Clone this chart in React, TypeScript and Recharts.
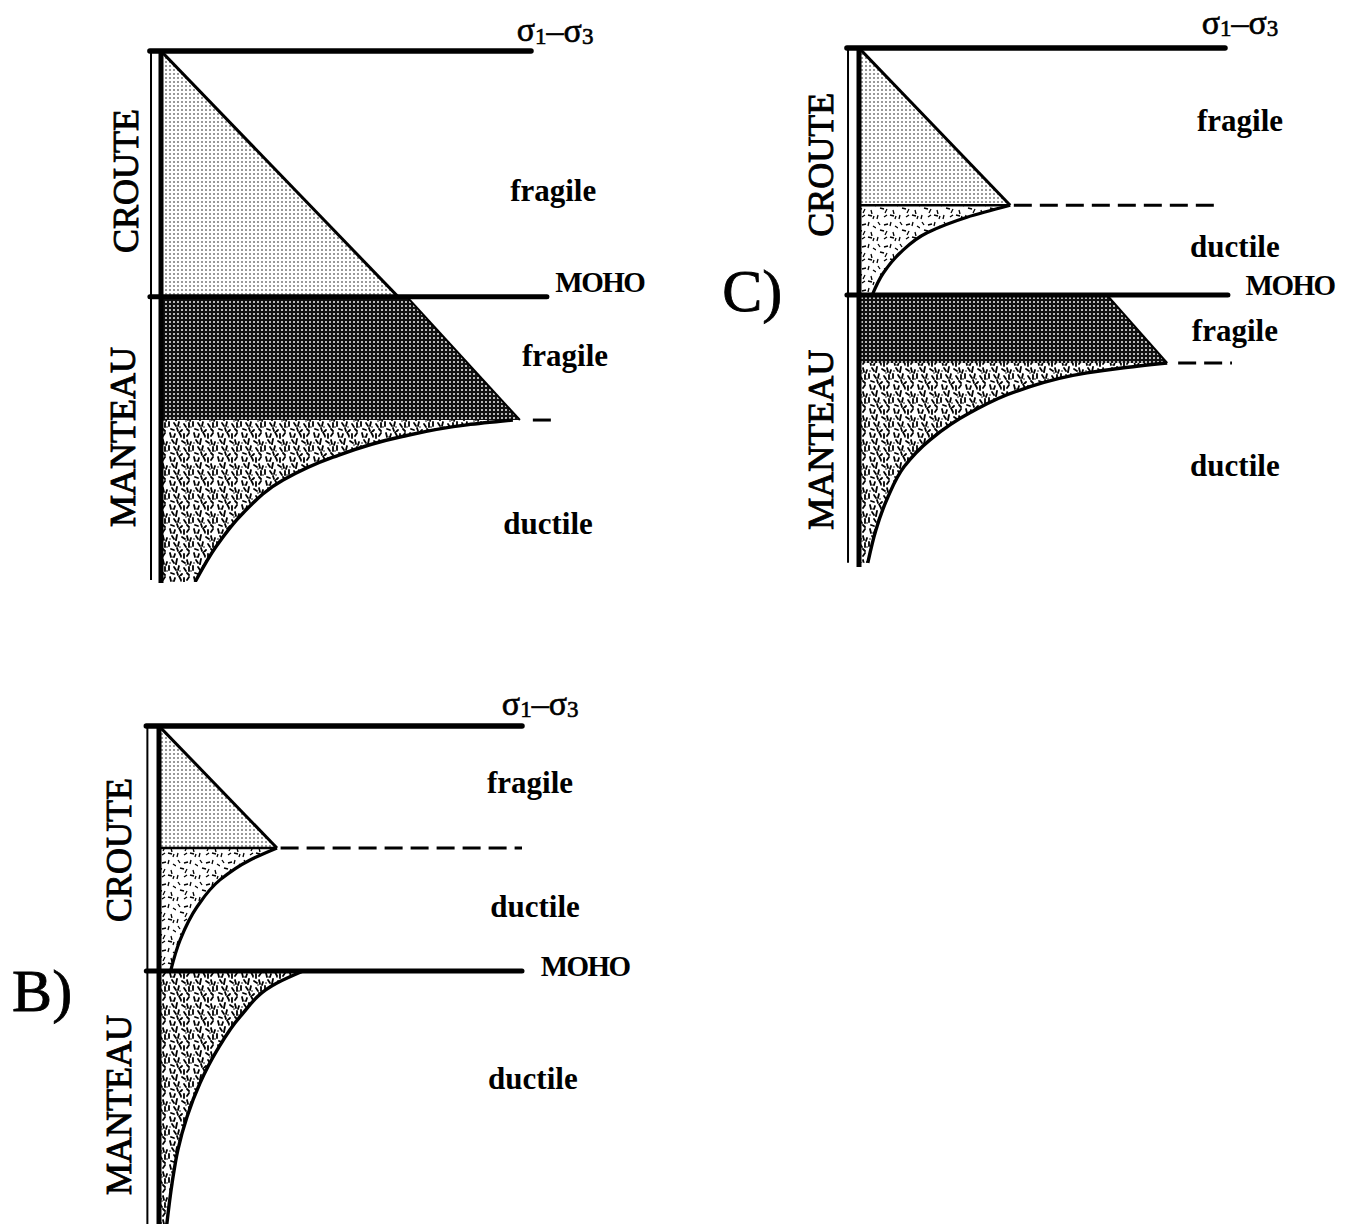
import React from 'react';
import { ComposedChart, Area, XAxis, YAxis, ReferenceLine, ReferenceDot } from 'recharts';

// depth: % of the drawn section below the surface, stress: % of the σ1–σ3 axis length

// A) thick crust, fully brittle crust
const aMoho = 46.3;
const aCrustBrittle = [
  { depth: 0, stress: 0 },
  { depth: 46.3, stress: 64.1 },
];
const aMantleBrittle = [
  { depth: 46.3, stress: 66.5 },
  { depth: 69.5, stress: 97.0 },
];
const aMantleDuctile = [
  { depth: 69.5, stress: 95.1 },
  { depth: 70.4, stress: 82.7 },
  { depth: 72.7, stress: 64.6 },
  { depth: 76.5, stress: 46.5 },
  { depth: 80.8, stress: 33.0 },
  { depth: 87.0, stress: 22.2 },
  { depth: 93.4, stress: 14.8 },
  { depth: 100, stress: 9.2 },
];

// B) ductile lower crust and ductile mantle
const bBdt = 24.5;
const bMoho = 49.2;
const bCrustBrittle = [
  { depth: 0, stress: 0 },
  { depth: 24.5, stress: 32.5 },
];
const bCrustDuctile = [
  { depth: 24.5, stress: 32.5 },
  { depth: 26.9, stress: 25.1 },
  { depth: 30.9, stress: 16.8 },
  { depth: 36.3, stress: 10.5 },
  { depth: 43.0, stress: 5.8 },
  { depth: 49.2, stress: 3.2 },
];
const bMantleDuctile = [
  { depth: 49.2, stress: 39.7 },
  { depth: 51.6, stress: 32.5 },
  { depth: 58.4, stress: 22.3 },
  { depth: 65.1, stress: 16.0 },
  { depth: 71.7, stress: 11.3 },
  { depth: 78.5, stress: 7.7 },
  { depth: 85.1, stress: 5.2 },
  { depth: 91.8, stress: 3.6 },
  { depth: 101, stress: 2.0 },
];

// C) ductile lower crust, brittle upper mantle
const cBdt = 30.3;
const cMoho = 47.6;
const cMantleBdt = 60.7;
const cCrustBrittle = [
  { depth: 0, stress: 0 },
  { depth: 30.3, stress: 41.3 },
];
const cCrustDuctile = [
  { depth: 30.3, stress: 41.3 },
  { depth: 32.6, stress: 29.5 },
  { depth: 35.6, stress: 18.6 },
  { depth: 39.5, stress: 11.2 },
  { depth: 43.4, stress: 6.6 },
  { depth: 47.6, stress: 3.6 },
];
const cMantleBrittle = [
  { depth: 47.6, stress: 67.8 },
  { depth: 60.7, stress: 84.2 },
];
const cMantleDuctile = [
  { depth: 60.7, stress: 84.2 },
  { depth: 61.7, stress: 71.3 },
  { depth: 62.6, stress: 62.3 },
  { depth: 65.9, stress: 44.0 },
  { depth: 70.3, stress: 30.3 },
  { depth: 75.5, stress: 19.4 },
  { depth: 80.7, stress: 12.3 },
  { depth: 86.5, stress: 7.9 },
  { depth: 92.9, stress: 4.6 },
  { depth: 99.2, stress: 2.4 },
];

type Pt = { depth: number; stress: number };
type Note = { text: string; kind: 'regime' | 'moho' | 'layer' | 'sigma' | 'panel'; stress: number; depth: number };

const aNotes: Note[] = [
  { text: 'σ1–σ3', kind: 'sigma', stress: 106.5, depth: -4.0 },
  { text: 'fragile', kind: 'regime', stress: 106, depth: 26.2 },
  { text: 'MOHO', kind: 'moho', stress: 118.6, depth: 43.5 },
  { text: 'fragile', kind: 'regime', stress: 109.2, depth: 57.3 },
  { text: 'ductile', kind: 'regime', stress: 104.6, depth: 88.9 },
  { text: 'CROUTE', kind: 'layer', stress: -9.7, depth: 24.5 },
  { text: 'MANTEAU', kind: 'layer', stress: -10.5, depth: 72.7 },
];
const bNotes: Note[] = [
  { text: 'σ1–σ3', kind: 'sigma', stress: 105, depth: -4.6 },
  { text: 'fragile', kind: 'regime', stress: 102.2, depth: 11.2 },
  { text: 'ductile', kind: 'regime', stress: 103.6, depth: 36.1 },
  { text: 'MOHO', kind: 'moho', stress: 117.4, depth: 48.2 },
  { text: 'ductile', kind: 'regime', stress: 103, depth: 70.7 },
  { text: 'CROUTE', kind: 'layer', stress: -11.3, depth: 24.9 },
  { text: 'MANTEAU', kind: 'layer', stress: -11.3, depth: 76.1 },
  { text: 'B)', kind: 'panel', stress: -32.2, depth: 53 },
];
const cNotes: Note[] = [
  { text: 'σ1–σ3', kind: 'sigma', stress: 104.1, depth: -5.0 },
  { text: 'fragile', kind: 'regime', stress: 104.1, depth: 13.9 },
  { text: 'ductile', kind: 'regime', stress: 102.7, depth: 38.2 },
  { text: 'MOHO', kind: 'moho', stress: 117.8, depth: 45.7 },
  { text: 'fragile', kind: 'regime', stress: 102.7, depth: 54.3 },
  { text: 'ductile', kind: 'regime', stress: 102.7, depth: 80.3 },
  { text: 'CROUTE', kind: 'layer', stress: -10.7, depth: 22.5 },
  { text: 'MANTEAU', kind: 'layer', stress: -10.7, depth: 75.5 },
  { text: 'C)', kind: 'panel', stress: -29.2, depth: 46.6 },
];

const FONT = '"Liberation Serif", "Times New Roman", Times, serif';

const sparseDashes = ['M2 2 l2 3', 'M8 5 l4 -1', 'M15 2 l-1 4', 'M19 6 l3 2', 'M4 10 l4 1', 'M11 11 l-2 4',
  'M17 12 l1 4', 'M2 17 l-1 4', 'M8 19 l3 -2', 'M14 17 l4 1', 'M20 18 l-1 3'];
const denseDashes = ['M2 1 l1 4', 'M7 2 l-1 3', 'M11 0 l2 4', 'M16 2 l0 4', 'M21 1 l-2 3',
  'M4 8 l2 3', 'M9 7 l-1 5', 'M14 9 l3 2', 'M19 8 l1 4', 'M23 10 l-1 3',
  'M1 14 l0 4', 'M6 15 l2 3', 'M11 14 l-1 4', 'M16 16 l2 3', 'M21 15 l0 4',
  'M3 21 l3 1', 'M9 20 l1 3', 'M14 22 l-2 2', 'M19 21 l2 2'];
const denseDots = [[5, 5], [13, 5], [18, 13], [8, 12], [2, 11], [23, 19], [12, 19]];

const Patterns = ({ id }: { id: string }) => (
  <defs>
    <pattern id={`${id}-light`} width={4} height={4} patternUnits="userSpaceOnUse">
      <rect width={4} height={4} fill="#fff" />
      <circle cx={2} cy={2} r={0.75} fill="#000" />
    </pattern>
    <pattern id={`${id}-dark`} width={4} height={4} patternUnits="userSpaceOnUse">
      <rect width={4} height={4} fill="#111" />
      <circle cx={2} cy={2} r={0.95} fill="#fff" />
    </pattern>
    <pattern id={`${id}-sparse`} width={22} height={22} patternUnits="userSpaceOnUse">
      <rect width={22} height={22} fill="#fff" />
      {sparseDashes.map((d, i) => (
        <path key={i} d={d} stroke="#000" strokeWidth={1.3} />
      ))}
    </pattern>
    <pattern id={`${id}-dense`} width={24} height={24} patternUnits="userSpaceOnUse">
      <rect width={24} height={24} fill="#fff" />
      {denseDashes.map((d, i) => (
        <path key={i} d={d} stroke="#000" strokeWidth={1.8} strokeLinecap="round" />
      ))}
      {denseDots.map(([cx, cy], i) => (
        <circle key={`d${i}`} cx={cx} cy={cy} r={0.8} fill="#000" />
      ))}
    </pattern>
  </defs>
);

const SigmaLabel = (props: any) => {
  const vb = props.viewBox || {};
  const x = (vb.x ?? 0) + (vb.width ?? 0) / 2;
  const y = (vb.y ?? 0) + (vb.height ?? 0) / 2;
  return (
    <text x={x} y={y} textAnchor="middle" dominantBaseline="central" fontFamily={FONT} fontSize={34}
      fill="#000" stroke="#000" strokeWidth={0.6}>
      σ<tspan fontSize={23} dy={6}>1</tspan>
      <tspan dy={-6}>–σ</tspan>
      <tspan fontSize={23} dy={6}>3</tspan>
    </text>
  );
};

const noteLabel = (n: Note) => {
  if (n.kind === 'sigma') return SigmaLabel;
  const base = { value: n.text, position: 'center' as const, fill: '#000', fontFamily: FONT };
  if (n.kind === 'regime') return { ...base, fontSize: 31, fontWeight: 700 };
  if (n.kind === 'moho') return { ...base, fontSize: 29, fontWeight: 700, letterSpacing: -1.5 };
  if (n.kind === 'layer') return { ...base, fontSize: 36, angle: -90, stroke: '#000', strokeWidth: 0.9 };
  return { ...base, fontSize: 60, stroke: '#000', strokeWidth: 0.8 };
};

interface Dash { depth: number; from: number; to: number }
interface PanelCfg {
  id: string;
  box: { left: number; top: number; width: number; height: number };
  plot: { left: number; top: number; width: number; height: number };
  thinX: number;
  axisBottom: number;
  thinBottom: number;
  moho: number;
  mohoEnd: number;
  crustBrittle: Pt[];
  crustDuctile?: Pt[];
  mantleBrittle?: Pt[];
  mantleDuctile: Pt[];
  bdtSolid?: Dash;
  dashes: Dash[];
  notes: Note[];
}

const Panel = ({ cfg }: { cfg: PanelCfg }) => {
  const { box, plot, id } = cfg;
  const margin = {
    left: plot.left - box.left,
    top: plot.top - box.top,
    right: box.left + box.width - plot.left - plot.width,
    bottom: box.top + box.height - plot.top - plot.height,
  };
  return (
    <div style={{ position: 'absolute', left: box.left, top: box.top }}>
      <ComposedChart layout="vertical" width={box.width} height={box.height} margin={margin}>
        <Patterns id={id} />
        <XAxis type="number" domain={[0, 100]} allowDataOverflow hide />
        <YAxis type="number" dataKey="depth" domain={[0, 100]} allowDataOverflow hide />
        <Area data={cfg.crustBrittle} dataKey="stress" type="linear" fill={`url(#${id}-light)`} fillOpacity={1}
          stroke="#000" strokeWidth={3} dot={false} activeDot={false} isAnimationActive={false} />
        {cfg.crustDuctile && (
          <Area data={cfg.crustDuctile} dataKey="stress" type="monotone" fill={`url(#${id}-sparse)`} fillOpacity={1}
            stroke="#000" strokeWidth={3.2} dot={false} activeDot={false} isAnimationActive={false} />
        )}
        {cfg.mantleBrittle && (
          <Area data={cfg.mantleBrittle} dataKey="stress" type="linear" fill={`url(#${id}-dark)`} fillOpacity={1}
            stroke="#000" strokeWidth={2} dot={false} activeDot={false} isAnimationActive={false} />
        )}
        <Area data={cfg.mantleDuctile} dataKey="stress" type="monotone" fill={`url(#${id}-dense)`} fillOpacity={1}
          stroke="#000" strokeWidth={3.4} dot={false} activeDot={false} isAnimationActive={false} />

        {/* axes drawn as reference segments */}
        <ReferenceLine segment={[{ x: cfg.thinX, y: 0 }, { x: cfg.thinX, y: cfg.thinBottom }]}
          stroke="#000" strokeWidth={2} ifOverflow="visible" />
        <ReferenceLine segment={[{ x: 0, y: 0 }, { x: 0, y: cfg.axisBottom }]}
          stroke="#000" strokeWidth={5} ifOverflow="visible" />
        <ReferenceLine segment={[{ x: cfg.thinX - 0.3, y: 0 }, { x: 100, y: 0 }]}
          stroke="#000" strokeWidth={5.5} strokeLinecap="round" ifOverflow="visible" />
        <ReferenceLine segment={[{ x: cfg.thinX - 0.3, y: cfg.moho }, { x: cfg.mohoEnd, y: cfg.moho }]}
          stroke="#000" strokeWidth={5} strokeLinecap="round" ifOverflow="visible" />
        {cfg.bdtSolid && (
          <ReferenceLine segment={[{ x: cfg.bdtSolid.from, y: cfg.bdtSolid.depth }, { x: cfg.bdtSolid.to, y: cfg.bdtSolid.depth }]}
            stroke="#000" strokeWidth={2.6} ifOverflow="visible" />
        )}
        {cfg.dashes.map((d, i) => (
          <ReferenceLine key={`dash-${i}`} segment={[{ x: d.from, y: d.depth }, { x: d.to, y: d.depth }]}
            stroke="#000" strokeWidth={3} strokeDasharray="18 8" ifOverflow="visible" />
        ))}

        {cfg.notes.map((n, i) => (
          <ReferenceDot key={`note-${i}`} x={n.stress} y={n.depth} r={0} stroke="none" fill="none"
            ifOverflow="visible" label={noteLabel(n) as any} />
        ))}
      </ComposedChart>
    </div>
  );
};

const panelA: PanelCfg = {
  id: 'pa',
  box: { left: 0, top: 0, width: 700, height: 640 },
  plot: { left: 161, top: 51, width: 370, height: 531 },
  thinX: -2.7,
  axisBottom: 100.2,
  thinBottom: 99.6,
  moho: aMoho,
  mohoEnd: 104.3,
  crustBrittle: aCrustBrittle,
  mantleBrittle: aMantleBrittle,
  mantleDuctile: aMantleDuctile,
  dashes: [{ depth: 69.5, from: 100.5, to: 105.9 }],
  notes: aNotes,
};

const panelB: PanelCfg = {
  id: 'pb',
  box: { left: 0, top: 660, width: 700, height: 564 },
  plot: { left: 159, top: 726, width: 363, height: 498 },
  thinX: -3.2,
  axisBottom: 102,
  thinBottom: 102,
  moho: bMoho,
  mohoEnd: 100,
  crustBrittle: bCrustBrittle,
  crustDuctile: bCrustDuctile,
  mantleDuctile: bMantleDuctile,
  bdtSolid: { depth: bBdt, from: 0, to: 32.5 },
  dashes: [{ depth: bBdt, from: 33.5, to: 100 }],
  notes: bNotes,
};

const panelC: PanelCfg = {
  id: 'pc',
  box: { left: 700, top: 0, width: 648, height: 640 },
  plot: { left: 859, top: 48, width: 366, height: 519 },
  thinX: -3.0,
  axisBottom: 100,
  thinBottom: 99.2,
  moho: cMoho,
  mohoEnd: 100.8,
  crustBrittle: cCrustBrittle,
  crustDuctile: cCrustDuctile,
  mantleBrittle: cMantleBrittle,
  mantleDuctile: cMantleDuctile,
  bdtSolid: { depth: cBdt, from: 0, to: 41.3 },
  dashes: [
    { depth: cBdt, from: 42.3, to: 98.1 },
    { depth: cMantleBdt, from: 87.2, to: 101.9 },
  ],
  notes: cNotes,
};

export default function App() {
  return (
    <div style={{ position: 'absolute', left: 0, top: 0, width: 1348, height: 1224, background: '#fff', overflow: 'hidden' }}>
      <Panel cfg={panelA} />
      <Panel cfg={panelC} />
      <Panel cfg={panelB} />
    </div>
  );
}
